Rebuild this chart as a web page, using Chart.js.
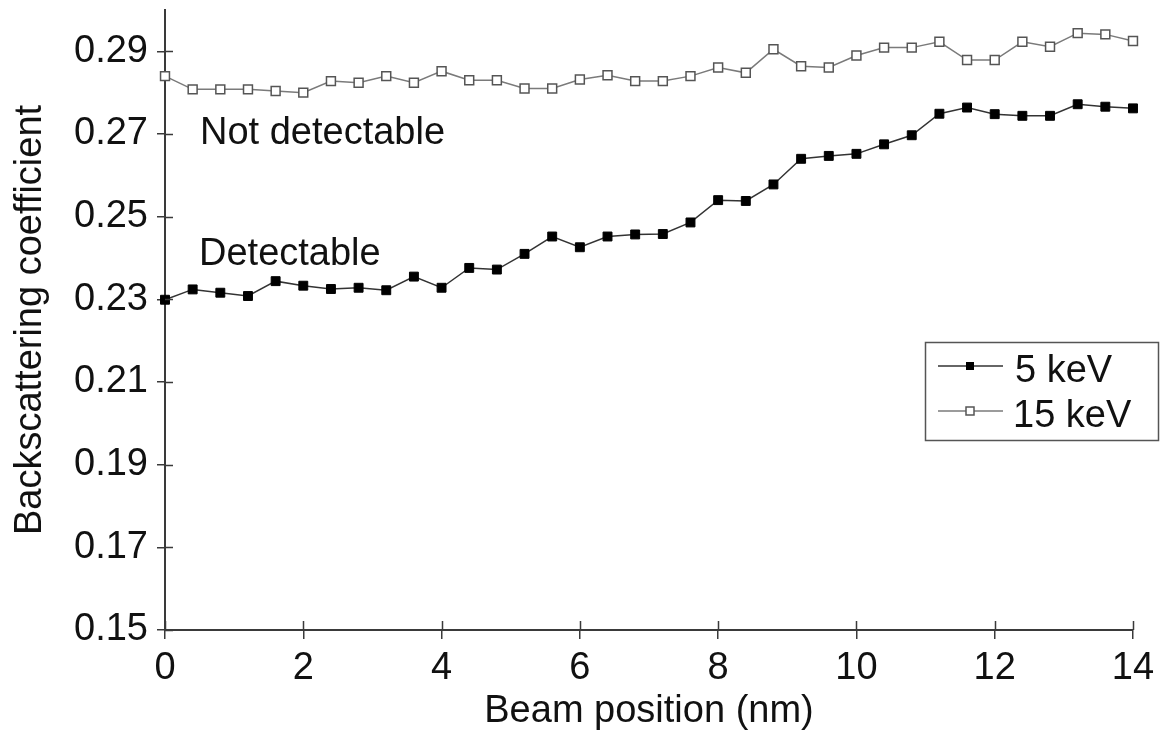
<!DOCTYPE html>
<html>
<head>
<meta charset="utf-8">
<script src="https://cdn.jsdelivr.net/npm/chart.js@4/dist/chart.umd.min.js"></script>
<style>
  html, body { margin: 0; padding: 0; background: #fff; }
  #wrap { width: 1161px; height: 734px; }
</style>
</head>
<body>
<div id="wrap"><canvas id="beamChart" width="1161" height="734"></canvas></div>
<script>
// beam positions (nm)
const positions = [0, 0.4, 0.8, 1.2, 1.6, 2.0, 2.4, 2.8, 3.2, 3.6, 4.0, 4.4, 4.8, 5.2, 5.6, 6.0, 6.4, 6.8,
  7.2, 7.6, 8.0, 8.4, 8.8, 9.2, 9.6, 10.0, 10.4, 10.8, 11.2, 11.6, 12.0, 12.4, 12.8, 13.2, 13.6, 14.0];

const keV5 = [0.2299, 0.2324, 0.2316, 0.2308, 0.2344, 0.2333, 0.2325, 0.2328, 0.2322, 0.2355, 0.2328, 0.2376,
  0.2372, 0.2410, 0.2452, 0.2426, 0.2452, 0.2457, 0.2458, 0.2486, 0.2540, 0.2538, 0.2578, 0.2640,
  0.2647, 0.2652, 0.2675, 0.2697, 0.2749, 0.2764, 0.2748, 0.2744, 0.2744, 0.2772, 0.2766, 0.2762];

const keV15 = [0.2840, 0.2808, 0.2808, 0.2808, 0.2804, 0.2800, 0.2828, 0.2824, 0.2840, 0.2824, 0.2852, 0.2830,
  0.2830, 0.2810, 0.2810, 0.2832, 0.2842, 0.2828, 0.2828, 0.2840, 0.2861, 0.2848, 0.2905, 0.2864,
  0.2861, 0.2890, 0.2909, 0.2909, 0.2923, 0.2879, 0.2879, 0.2923, 0.2911, 0.2944, 0.2941, 0.2925];

const yTicks = [0.15, 0.17, 0.19, 0.21, 0.23, 0.25, 0.27, 0.29];
const seriesNames = ['5 keV', '15 keV'];
const notes = ['Not detectable', 'Detectable'];

const FONT = "'Liberation Sans', Arial, Helvetica, sans-serif";
const AXIS = '#3a3a3a';

const toPoints = (vals) => vals.map((v, i) => ({ x: positions[i], y: v }));

// ticks cross the axis line, so draw the inner half too
const crossTicks = {
  id: 'crossTicks',
  afterDraw(chart) {
    const { ctx, chartArea: a, scales: { x, y } } = chart;
    ctx.save();
    ctx.strokeStyle = AXIS;
    ctx.lineWidth = 1.5;
    ctx.beginPath();
    y.ticks.forEach(t => {
      const py = Math.round(y.getPixelForValue(t.value)) + 0.5;
      ctx.moveTo(a.left, py); ctx.lineTo(a.left + 8, py);
    });
    x.ticks.forEach(t => {
      const px = Math.round(x.getPixelForValue(t.value)) + 0.5;
      ctx.moveTo(px, a.bottom); ctx.lineTo(px, a.bottom - 9);
    });
    ctx.stroke();
    ctx.restore();
  }
};

// the two text notes inside the plot
const notesPlugin = {
  id: 'notes',
  afterDraw(chart) {
    const { ctx, chartArea: a } = chart;
    ctx.save();
    ctx.font = '38px ' + FONT;
    ctx.fillStyle = '#111';
    ctx.textBaseline = 'alphabetic';
    ctx.fillText(notes[0], a.left + 35, 144);
    ctx.fillText(notes[1], a.left + 34, 265);
    ctx.restore();
  }
};

// boxed legend with line + marker samples
const boxLegend = {
  id: 'boxLegend',
  afterDraw(chart) {
    const { ctx } = chart;
    const bx = 925, by = 342, bw = 233, bh = 98;
    ctx.save();
    ctx.strokeStyle = '#555';
    ctx.lineWidth = 1.5;
    ctx.strokeRect(bx + 0.5, by + 0.5, bw, bh);
    ctx.font = '38px ' + FONT;
    ctx.textBaseline = 'alphabetic';
    chart.data.datasets.forEach((ds, i) => {
      const ly = i === 0 ? 366 : 411;
      ctx.strokeStyle = ds.borderColor;
      ctx.lineWidth = 1.5;
      ctx.beginPath();
      ctx.moveTo(938, ly); ctx.lineTo(1003, ly);
      ctx.stroke();
      ctx.fillStyle = ds.pointBackgroundColor;
      ctx.strokeStyle = ds.pointBorderColor;
      ctx.lineWidth = ds.pointBorderWidth;
      const s = i === 0 ? 3.5 : 4;
      ctx.fillRect(970 - s, ly - s, 2 * s, 2 * s);
      ctx.strokeRect(970 - s, ly - s, 2 * s, 2 * s);
      ctx.fillStyle = '#111';
      ctx.fillText(ds.label, i === 0 ? 1015 : 1013, ly + 16);
    });
    ctx.restore();
  }
};

new Chart(document.getElementById('beamChart'), {
  type: 'line',
  data: {
    datasets: [
      {
        label: seriesNames[0],
        data: toPoints(keV5),
        borderColor: '#333',
        borderWidth: 1.5,
        pointStyle: 'rect',
        pointRadius: 6.3,
        pointBackgroundColor: '#000',
        pointBorderColor: '#000',
        pointBorderWidth: 1,
        tension: 0,
      },
      {
        label: seriesNames[1],
        data: toPoints(keV15),
        borderColor: '#7a7a7a',
        borderWidth: 1.5,
        pointStyle: 'rect',
        pointRadius: 6.3,
        pointBackgroundColor: '#fff',
        pointBorderColor: '#555',
        pointBorderWidth: 1.5,
        tension: 0,
      },
    ],
  },
  options: {
    responsive: false,
    animation: false,
    clip: false,
    layout: { padding: { left: 0, top: 10, right: 28, bottom: 0 } },
    plugins: {
      legend: { display: false },
      tooltip: { enabled: false },
    },
    scales: {
      x: {
        type: 'linear',
        min: 0,
        max: 14,
        ticks: {
          stepSize: 2,
          padding: 7,
          color: '#111',
          font: { family: FONT, size: 38 },
          maxRotation: 0,
        },
        grid: { drawOnChartArea: false, drawTicks: true, tickLength: 9, color: AXIS, lineWidth: 1.5 },
        border: { display: true, color: AXIS, width: 2 },
        title: {
          display: true,
          text: 'Beam position (nm)',
          color: '#111',
          font: { family: FONT, size: 38 },
          padding: { top: 0, bottom: 0 },
        },
        afterFit: (scale) => { scale.height = 104; scale.paddingLeft = 0; scale.paddingRight = 0; },
      },
      y: {
        type: 'linear',
        min: 0.15,
        max: 0.30,
        afterBuildTicks: (scale) => { scale.ticks = yTicks.map(v => ({ value: v })); },
        ticks: {
          padding: 9,
          color: '#111',
          font: { family: FONT, size: 38 },
          callback: (v) => v.toFixed(2),
        },
        grid: { drawOnChartArea: false, drawTicks: true, tickLength: 8, color: AXIS, lineWidth: 1.5 },
        border: { display: true, color: AXIS, width: 2 },
        title: {
          display: true,
          text: 'Backscattering coefficient',
          color: '#111',
          font: { family: FONT, size: 38 },
          padding: { top: 8, bottom: 0 },
        },
        afterFit: (scale) => { scale.width = 165; scale.paddingTop = 0; scale.paddingBottom = 0; },
      },
    },
  },
  plugins: [crossTicks, notesPlugin, boxLegend],
});
</script>
</body>
</html>
